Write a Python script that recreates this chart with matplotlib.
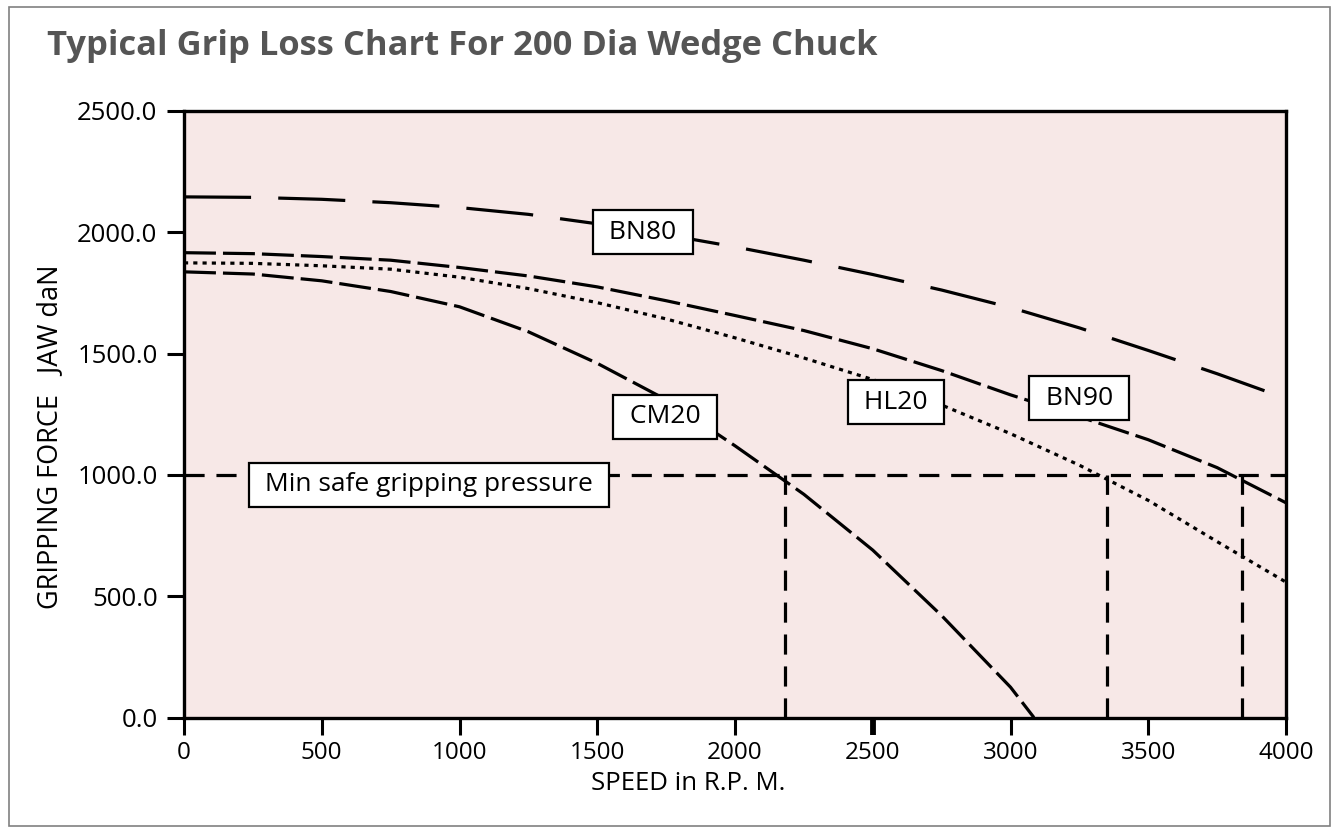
import matplotlib.pyplot as plt
from matplotlib.patches import Rectangle

# Grip loss readings, gripping force per jaw (daN) against spindle speed (rpm)
rpm = [0, 250, 500, 750, 1000, 1250, 1500, 1750, 2000, 2250, 2500, 2750,
       3000, 3250, 3500, 3750, 4000]
bn80 = [2146, 2144, 2136, 2122, 2102, 2074, 2035, 1990, 1940, 1885, 1826,
        1762, 1690, 1606, 1513, 1417, 1315]
bn90 = [1916, 1912, 1900, 1885, 1855, 1820, 1775, 1718, 1657, 1595, 1520,
        1430, 1330, 1240, 1145, 1030, 885]
hl20 = [1874, 1872, 1862, 1848, 1815, 1768, 1710, 1643, 1565, 1482, 1393,
        1288, 1170, 1040, 895, 725, 558]
cm20_rpm = [0, 250, 500, 750, 1000, 1250, 1500, 1750, 2000, 2250, 2500,
            2750, 3000, 3085]
cm20 = [1837, 1828, 1800, 1756, 1693, 1590, 1460, 1310, 1120, 920, 690,
        420, 125, 0]

min_safe = 1000
limit_speeds = [2180, 3350, 3840]

# label text and anchor point (rpm, daN)
labels = [("BN80", 1666, 2000), ("CM20", 1746, 1240), ("HL20", 2584, 1300),
          ("BN90", 3249, 1315)]
min_safe_label = ("Min safe gripping pressure", 889, 960)

x_ticks = [0, 500, 1000, 1500, 2000, 2500, 3000, 3500, 4000]
y_ticks = [0, 500, 1000, 1500, 2000, 2500]

plt.rcParams['font.family'] = ['Open Sans', 'DejaVu Sans']

fig = plt.figure(figsize=(13.35, 8.32), dpi=100)
ax = fig.add_axes([184 / 1335, 1 - 717.5 / 832, 1102 / 1335, 606.5 / 832])
ax.set_facecolor('#f7e8e7')

lw = 2.3
ax.plot(rpm, bn80, color='black', lw=lw, dashes=(21, 8.5))
ax.plot(rpm, bn90, color='black', lw=lw, dashes=(10, 2.2))
ax.plot(cm20_rpm, cm20, color='black', lw=lw, dashes=(10, 2.2))
ax.plot(rpm, hl20, color='black', lw=lw, dashes=(1.3, 1.6))

ax.axhline(min_safe, color='black', lw=lw, dashes=(6.3, 3.7))
for s in limit_speeds:
    ax.plot([s, s], [0, min_safe], color='black', lw=lw, dashes=(6.3, 3.7))

box = dict(boxstyle='square,pad=0.36', facecolor='white', edgecolor='black', lw=1.6)
for name, x, y in labels:
    ax.text(x, y, " " + name + " ", fontsize=19, ha='center', va='center',
            bbox=box, zorder=5)
txt, x, y = min_safe_label
ax.text(x, y, " " + txt + " ", fontsize=19, ha='center', va='center',
        bbox=box, zorder=5)

ax.set_xlim(0, 4000)
ax.set_ylim(0, 2500)
ax.set_xticks(x_ticks)
ax.set_yticks(y_ticks)
ax.set_yticklabels([f"{v:.1f}" for v in y_ticks])
ax.tick_params(axis='both', direction='out', length=12, width=2.2,
               colors='black')
ax.tick_params(axis='y', pad=7, labelsize=18.5)
ax.tick_params(axis='x', pad=5, labelsize=17.5)
# heavier tick at 2500 rpm
ax.xaxis.get_major_ticks()[5].tick1line.set_markeredgewidth(4.2)

for sp in ax.spines.values():
    sp.set_linewidth(2.4)

fig.text(688 / 1335, 1 - 784 / 832, "SPEED in R.P. M.", fontsize=18.5,
         ha='center', va='center')
fig.text(50 / 1335, 1 - 437 / 832, "GRIPPING FORCE   JAW daN", fontsize=19.5,
         ha='center', va='center', rotation=90)

fig.text(47 / 1335, 1 - 46 / 832, "Typical Grip Loss Chart For 200 Dia Wedge Chuck",
         fontsize=24.8, fontweight='bold', color='#555555', ha='left', va='center')

fig.patches.append(Rectangle((9 / 1335, 6 / 832), 1321 / 1335, 819 / 832,
                             transform=fig.transFigure, fill=False,
                             edgecolor='#808080', lw=1.2))

fig.savefig('out.png', dpi=100)
